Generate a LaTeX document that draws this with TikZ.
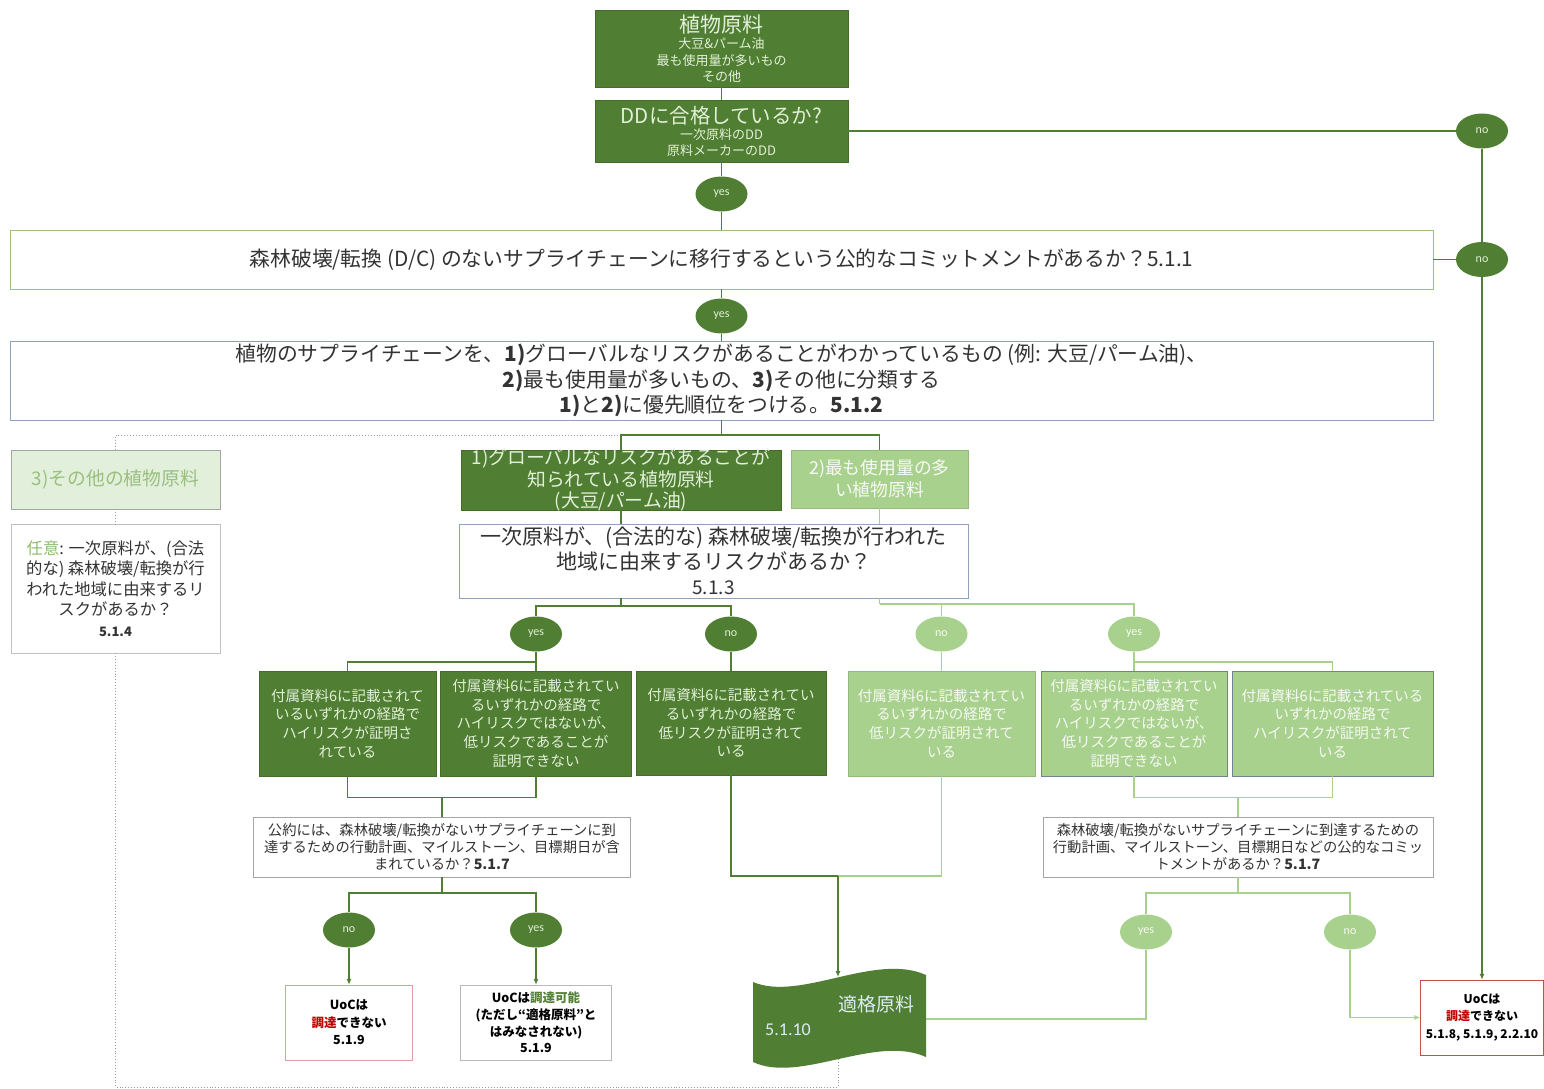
\documentclass[tikz,border=0pt]{standalone}
\usepackage{fontspec}
\setmainfont{Noto Sans CJK JP}
\newfontfamily\latf{Carlito}
\usetikzlibrary{arrows.meta,calc,shapes.geometric}
\definecolor{dkg}{HTML}{507E32}
\definecolor{ltg}{HTML}{A9D18E}
\definecolor{vltg}{HTML}{E2EFDA}
\definecolor{dktxt}{HTML}{E2F0D9}
\definecolor{lttxt}{HTML}{F7FAF4}
\definecolor{bluegray}{HTML}{8EA2BC}
\definecolor{q1b}{HTML}{9CBF7E}
\definecolor{grayb}{HTML}{A6A6A6}
\definecolor{redb}{HTML}{C0504D}
\definecolor{redt}{HTML}{C00000}
\definecolor{grnt}{HTML}{548235}
\definecolor{othtxt}{HTML}{98C07E}
\definecolor{optc}{HTML}{8DBB6E}
\definecolor{tapetxt}{HTML}{DDEBF7}
\definecolor{txt}{HTML}{333333}
\begin{document}
\begin{tikzpicture}[x=1pt,y=-1pt,
  box/.style={rectangle, align=center, inner sep=2pt},
  dkbox/.style={box, fill=dkg, draw=dkg!85!black, text=dktxt},
  ltbox/.style={box, fill=ltg, draw=ltg!88!black, text=lttxt},
  wbox/.style={box, fill=white, draw=bluegray, text=txt},
  sixf/.style={font=\fontsize{14.5}{18.7}\selectfont},
  dkoval/.style={ellipse, fill=dkg, text=dktxt, minimum width=52, minimum height=35, inner sep=0pt, font=\latf\fontsize{12}{13}\selectfont},
  ltoval/.style={ellipse, fill=ltg, text=lttxt, minimum width=52, minimum height=35, inner sep=0pt, font=\latf\fontsize{12}{13}\selectfont},
  outbox/.style={box, fill=white, text=black, font=\bfseries\fontsize{12.5}{17.5}\selectfont},
  dkl/.style={draw=dkg, line width=1.1pt},
  ltl/.style={draw=ltg, line width=1.1pt},
  dotl/.style={draw=black!40, dotted, line width=0.9pt},
  arr/.style={-{Latex[length=6pt,width=5pt]}}
]
\useasboundingbox[fill=white] (0,0) rectangle (1544,1089);

% ---------- tape shape (eligible material) ----------
\fill[dkg] (753,982) .. controls (800,1002) and (875,952) .. (926,975) -- (926,1057) .. controls (875,1034) and (800,1084) .. (753,1062) -- cycle;
\coordinate (tapetop) at (838,977);
\coordinate (tapebot) at (838,1059);
\coordinate (taperight) at (926,1019);

% ---------- nodes ----------
\node[dkbox, minimum width=253, minimum height=77, inner ysep=-2pt, font=\fontsize{13}{16.5}\selectfont] (src) at (721.5,48.5)
  {{\fontsize{21}{22}\selectfont 植物原料}\\大豆\&パーム油\\最も使用量が多いもの\\その他};
\node[dkbox, minimum width=253, minimum height=62, inner ysep=-2pt, font=\fontsize{13}{16}\selectfont] (dd) at (721.5,131)
  {{\fontsize{20.5}{21}\selectfont DDに合格しているか?}\\一次原料のDD\\原料メーカーのDD};
\node[dkoval] (y1) at (721.5,194) {yes};
\node[dkoval] (n1) at (1482,131) {no};
\node[wbox, draw=q1b, minimum width=1423, minimum height=59, font=\fontsize{20.8}{23}\selectfont] (q1) at (721.5,259.5)
  {森林破壊/転換 (D/C) のないサプライチェーンに移行するという公的なコミットメントがあるか？5.1.1};
\node[dkoval] (n2) at (1482,259.5) {no};
\node[dkoval] (y2) at (721.5,316) {yes};
\node[wbox, minimum width=1423, minimum height=79, inner ysep=-4pt, font=\fontsize{20.8}{25.5}\selectfont] (q2) at (721.5,380.5)
  {植物のサプライチェーンを、\textbf{1)}グローバルなリスクがあることがわかっているもの (例: 大豆/パーム油)、\\\textbf{2)}最も使用量が多いもの、\textbf{3)}その他に分類する\\\textbf{1)}と\textbf{2)}に優先順位をつける。\textbf{5.1.2}};

\node[box, fill=vltg, draw=grayb, text=othtxt, minimum width=209, minimum height=59, font=\fontsize{18.8}{21}\selectfont] (oth) at (115.5,479.5) {3)その他の植物原料};
\node[wbox, draw=grayb!70, minimum width=209, minimum height=129, inner ysep=-2pt, font=\fontsize{16.3}{20.5}\selectfont] (opt) at (115.5,588.5)
  {{\color{optc}任意}: 一次原料が、(合法\\的な) 森林破壊/転換が行\\われた地域に由来するリ\\スクがあるか？\\{\fontsize{13}{16}\selectfont\textbf{5.1.4}}};

\node[dkbox, minimum width=320, minimum height=60, inner ysep=-6pt, font=\fontsize{18.8}{21.5}\selectfont] (glob) at (621,480)
  {1)グローバルなリスクがあることが\\知られている植物原料\\(大豆/パーム油)};
\node[ltbox, minimum width=177, minimum height=58, font=\fontsize{17.8}{22}\selectfont] (most) at (879.5,479)
  {2)最も使用量の多\\い植物原料};
\node[wbox, minimum width=509, minimum height=74, inner ysep=-5pt, font=\fontsize{21}{25}\selectfont] (q3) at (713.5,561)
  {一次原料が、(合法的な) 森林破壊/転換が行われた\\地域に由来するリスクがあるか？\\{\fontsize{19}{22}\selectfont 5.1.3}};

\node[dkoval] (y3) at (536,634) {yes};
\node[dkoval] (n3) at (731,634) {no};
\node[ltoval] (n4) at (941.5,634) {no};
\node[ltoval] (y4) at (1134,634) {yes};

\node[dkbox, sixf, minimum width=177, minimum height=105] (A) at (347.5,723.5)
  {付属資料6に記載されて\\いるいずれかの経路で\\ハイリスクが証明さ\\れている};
\node[dkbox, sixf, minimum width=191, minimum height=105, inner ysep=-2pt] (B) at (536,723.5)
  {付属資料6に記載されてい\\るいずれかの経路で\\ハイリスクではないが、\\低リスクであることが\\証明できない};
\node[dkbox, sixf, minimum width=190, minimum height=104] (C) at (731,723)
  {付属資料6に記載されてい\\るいずれかの経路で\\低リスクが証明されて\\いる};
\node[ltbox, sixf, minimum width=187, minimum height=105] (D) at (941.5,723.5)
  {付属資料6に記載されてい\\るいずれかの経路で\\低リスクが証明されて\\いる};
\node[ltbox, sixf, minimum width=186, minimum height=105, inner ysep=-2pt, draw=bluegray!80!black] (E) at (1134,723.5)
  {付属資料6に記載されてい\\るいずれかの経路で\\ハイリスクではないが、\\低リスクであることが\\証明できない};
\node[ltbox, sixf, minimum width=201, minimum height=105, draw=bluegray!80!black] (F) at (1332.5,723.5)
  {付属資料6に記載されている\\いずれかの経路で\\ハイリスクが証明されて\\いる};

\node[wbox, draw=grayb, minimum width=377, minimum height=60, font=\fontsize{14.3}{17}\selectfont] (G) at (442,847)
  {公約には、森林破壊/転換がないサプライチェーンに到\\達するための行動計画、マイルストーン、目標期日が含\\まれているか？\textbf{5.1.7}};
\node[wbox, draw=grayb, minimum width=390, minimum height=60, font=\fontsize{14.3}{17}\selectfont] (H) at (1238,847)
  {森林破壊/転換がないサプライチェーンに到達するための\\行動計画、マイルストーン、目標期日などの公的なコミッ\\トメントがあるか？\textbf{5.1.7}};

\node[dkoval] (n5) at (349,930) {no};
\node[dkoval] (y5) at (536,930) {yes};
\node[ltoval] (y6) at (1146,932) {yes};
\node[ltoval] (n6) at (1350,932) {no};

\node[outbox, draw=redb!55, minimum width=127, minimum height=75] (I) at (349,1022.5)
  {UoCは\\{\color{redt}調達}できない\\5.1.9};
\node[outbox, draw=grayb!80, minimum width=151, minimum height=75, inner ysep=-2pt, font=\bfseries\fontsize{12.5}{16.7}\selectfont] (J) at (536,1022.5)
  {UoCは{\color{grnt}調達可能}\\(ただし“適格原料”と\\はみなされない)\\5.1.9};
\node[outbox, draw=redb, minimum width=123, minimum height=75, font=\bfseries\fontsize{12}{17.5}\selectfont] (K) at (1482,1017.5)
  {UoCは\\{\color{redt}調達}できない\\5.1.8, 5.1.9, 2.2.10};

\node[text=tapetxt, font=\fontsize{19}{22}\selectfont] (elig) at (876,1004) {適格原料};
\node[text=tapetxt, font=\latf\fontsize{18}{20}\selectfont] (eligno) at (788,1030) {5.1.10};

% ---------- connectors ----------
\coordinate (j1) at (721.5,435);
\coordinate (j3) at (621,606);
\coordinate (j4) at (879.5,604);
\coordinate (j5) at (536,662);
\coordinate (j6) at (1134,662);
\coordinate (j7) at (442,797);
\coordinate (j8) at (1238,797);
\coordinate (j9) at (442,893);
\coordinate (j10) at (1238,893);
\coordinate (jc) at (838,876);
\coordinate (dotc) at (115.5,1087);

\draw[dkl] (src) -- (dd);
\draw[dkl] (dd) -- (y1);
\draw[dkl] (y1) -- (q1);
\draw[dkl] (dd.east) -- (n1);
\draw[dkl] (n1) -- (n2);
\draw[dkl] (q1.east) -- (n2);
\draw[dkl,arr] (n2) -- (K);
\draw[dkl] (q1) -- (y2);
\draw[dkl] (y2) -- (q2);

\draw[dotl] (glob.north |- j1) -| (oth.north);
\draw[dotl] (oth) -- (opt);
\draw[dotl] (opt.south) -- (dotc) -| (tapebot);
\draw[dkl] (q2.south) -- (j1);
\draw[dkl] (j1) -| (glob.north);
\draw[dkl] (j1) -| (most.north);
\draw[dkl] (glob.south) -- (glob.south |- q3.north);
\draw[ltl] (most.south) -- (most.south |- q3.north);

\draw[dkl] (glob.south |- q3.south) -- (j3);
\draw[dkl] (j3) -| (y3.north);
\draw[dkl] (j3) -| (n3.north);
\draw[ltl] (most.south |- q3.south) -- (j4);
\draw[ltl] (j4) -| (n4.north);
\draw[ltl] (j4) -| (y4.north);

\draw[dkl] (y3) -- (j5);
\draw[dkl] (j5) -| (A.north);
\draw[dkl] (j5) -| (B.north);
\draw[dkl] (n3) -- (C);
\draw[ltl] (n4) -- (D);
\draw[ltl] (y4) -- (j6);
\draw[ltl] (j6) -| (E.north);
\draw[ltl] (j6) -| (F.north);

\draw[dkl] (A.south) -- ++(0,21) -| (B.south);
\draw[dkl] (j7) -- (G);
\draw[ltl] (E.south) -- ++(0,21) -| (F.south);
\draw[ltl] (j8) -- (H);

\draw[dkl] (G) -- (j9);
\draw[dkl] (j9) -| (n5.north);
\draw[dkl] (j9) -| (y5.north);
\draw[dkl,arr] (n5) -- (I);
\draw[dkl,arr] (y5) -- (J);

\draw[ltl] (H) -- (j10);
\draw[ltl] (j10) -| (y6.north);
\draw[ltl] (j10) -| (n6.north);

\draw[dkl] (C.south) |- (jc);
\draw[ltl] (D.south) |- (jc);
\draw[dkl,arr] (jc) -- (tapetop);
\draw[ltl] (y6.south) |- (taperight);
\draw[ltl,arr] (n6.south) |- (K.west);
\end{tikzpicture}
\end{document}
